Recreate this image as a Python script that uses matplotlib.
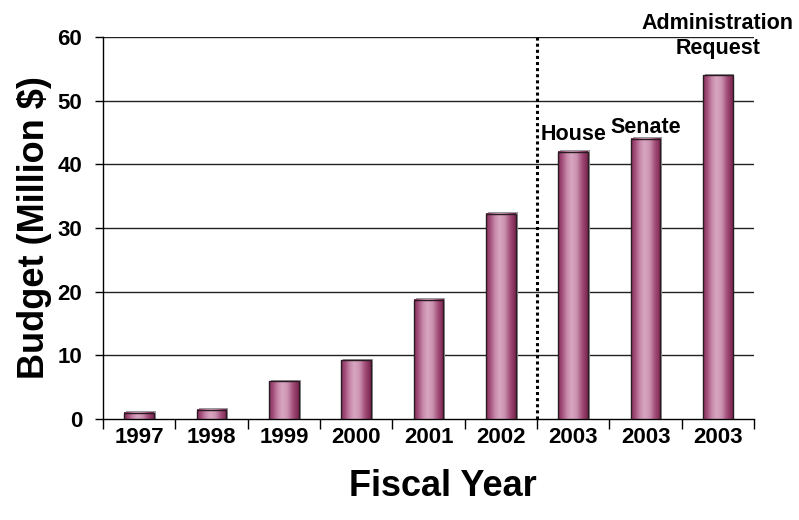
import numpy as np
import matplotlib
matplotlib.use("Agg")
import matplotlib.pyplot as plt
from matplotlib import font_manager as fm
from matplotlib.colors import LinearSegmentedColormap

# Budget by fiscal year (million $)
years = ["1997", "1998", "1999", "2000", "2001", "2002", "2003", "2003", "2003"]
budget = [1.0, 1.45, 5.9, 9.2, 18.7, 32.2, 42.0, 44.0, 54.0]
bar_notes = ["", "", "", "", "", "", "House", "Senate", "Administration\nRequest"]
y_ticks = [0, 10, 20, 30, 40, 50, 60]

installed = {f.name for f in fm.fontManager.ttflist}
if "Liberation Sans Narrow" in installed:
    narrow, tick_size = "Liberation Sans Narrow", 17.5
else:
    narrow, tick_size = "Liberation Sans", 16
wide = "Liberation Sans"

fig = plt.figure(figsize=(7.99, 5.2), dpi=100)
ax = fig.add_axes([0.129, 0.1942, 0.8147, 0.7346])

# cylinder-style shading across each bar
shade = LinearSegmentedColormap.from_list(
    "bar_shade",
    [(0.0, "#85305d"), (0.12, "#a04a77"), (0.3, "#c98aab"), (0.45, "#d7a6c0"),
     (0.62, "#cc93b1"), (0.82, "#a14b77"), (1.0, "#78264f")],
)
grad = np.linspace(0, 1, 64).reshape(1, -1)

x = np.arange(len(years))
width = 0.41
for xi, h in zip(x, budget):
    ax.imshow(grad, cmap=shade, aspect="auto", origin="lower",
              extent=[xi - width / 2, xi + width / 2, 0, h], zorder=3,
              interpolation="bilinear")
    # soft shadow to the right
    ax.add_patch(plt.Rectangle((xi - width / 2 + 0.025, 0), width, h + 0.25,
                               facecolor="#9a9a9a", edgecolor="none", zorder=2.5))
bars = ax.bar(x, budget, width=width, facecolor="none", edgecolor="#2a1a22",
              linewidth=1.0, zorder=4)

ax.set_xlim(-0.5, len(years) - 0.5)
ax.set_ylim(0, 60)

# horizontal grid
for t in y_ticks[1:]:
    ax.axhline(t, color="#222222", linewidth=1.0, zorder=1)

# separator between enacted years and 2003 proposals
ax.plot([5.5, 5.5], [0, 60], color="black", linestyle=(0, (1, 1)),
        linewidth=2.2, zorder=5, clip_on=False)

for spine in ["top", "right"]:
    ax.spines[spine].set_visible(False)
ax.spines["left"].set_linewidth(1.0)
ax.spines["bottom"].set_linewidth(1.0)

ax.set_yticks(y_ticks)
ax.set_yticklabels([str(t) for t in y_ticks], fontfamily=narrow,
                   fontweight="bold", fontsize=tick_size)
ax.tick_params(axis="y", direction="out", length=6, width=1.0, pad=9)

# boundary ticks on x, labels centred on categories
ax.set_xticks(np.arange(-0.5, len(years)), minor=False)
ax.set_xticklabels([])
ax.tick_params(axis="x", which="major", direction="out", length=7, width=1.0)
ax.set_xticks(x, minor=True)
ax.set_xticklabels(years, minor=True, fontfamily=narrow, fontweight="bold",
                   fontsize=tick_size)
ax.tick_params(axis="x", which="minor", length=0, pad=5.5)

ax.set_ylabel("Budget (Million $)", fontfamily=wide, fontweight="bold",
              fontsize=26)
ax.yaxis.set_label_coords(-0.078, 0.5)
ax.set_xlabel("Fiscal Year", fontfamily=wide, fontweight="bold", fontsize=26)
ax.xaxis.set_label_coords((443 - 103) / 651, -0.13)

offsets = [0, 0, 0, 0, 0, 0, 5, 0.5, 12]
for xi, h, note, off in zip(x, budget, bar_notes, offsets):
    if note:
        ax.annotate(note, (xi, h), xytext=(0, off), textcoords="offset points",
                    ha="center", va="bottom", fontfamily=wide,
                    fontweight="bold", fontsize=15.5, linespacing=1.2,
                    annotation_clip=False, zorder=6)

fig.savefig("out.png", dpi=100)
